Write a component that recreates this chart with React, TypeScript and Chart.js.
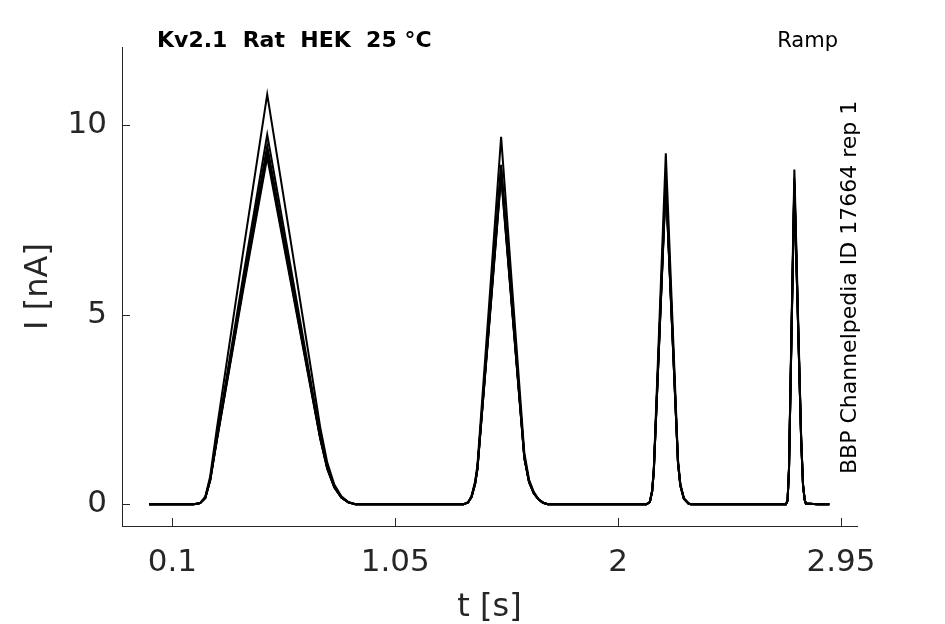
import { useEffect, useRef } from 'react';
import { Chart, registerables } from 'chart.js';

Chart.register(...registerables);

// sample times [s], shared by all repeats
const tSec = [
  0.0, 0.1, 0.19,
  0.218, 0.24, 0.261, 0.275, 0.289, 0.4, 0.504, 0.6, 0.7, 0.73, 0.76, 0.79, 0.82, 0.85, 0.88,
  1.0, 1.2, 1.34,
  1.36, 1.375, 1.39, 1.4, 1.45, 1.501, 1.55, 1.6, 1.62, 1.64, 1.66, 1.68, 1.7,
  1.85, 2.0, 2.12,
  2.135, 2.145, 2.152, 2.17, 2.203, 2.23, 2.255, 2.265, 2.28, 2.3, 2.31,
  2.45, 2.6, 2.715,
  2.722, 2.728, 2.74, 2.751, 2.765, 2.78, 2.788, 2.795, 2.8,
  2.85, 2.9,
];

// current [nA] for each repeat
const traceA = [
  0, 0, 0,
  0.03, 0.2, 0.74, 1.36, 1.98, 6.6, 10.81, 7.1, 3.2, 2.03, 1.1, 0.52, 0.21, 0.06, 0,
  0, 0, 0,
  0.05, 0.22, 0.6, 1.03, 5.28, 9.69, 5.55, 1.36, 0.65, 0.33, 0.14, 0.04, 0,
  0, 0, 0,
  0.06, 0.38, 0.97, 3.88, 9.26, 5.06, 1.18, 0.54, 0.16, 0.02, 0,
  0, 0, 0,
  0.1, 0.94, 5.09, 8.83, 5.4, 1.77, 0.52, 0.12, 0.02,
  0, 0,
];
const traceB = [
  0, 0, 0,
  0.03, 0.18, 0.67, 1.23, 1.78, 5.95, 9.75, 6.4, 2.88, 1.83, 1.0, 0.47, 0.19, 0.05, 0,
  0, 0, 0,
  0.05, 0.2, 0.55, 0.96, 4.88, 8.95, 5.13, 1.26, 0.6, 0.3, 0.13, 0.04, 0,
  0, 0, 0,
  0.06, 0.36, 0.92, 3.66, 8.75, 4.78, 1.12, 0.51, 0.15, 0.02, 0,
  0, 0, 0,
  0.1, 0.91, 4.96, 8.6, 5.26, 1.72, 0.51, 0.12, 0.02,
  0, 0,
];
const traceC = [
  0, 0, 0,
  0.03, 0.17, 0.65, 1.19, 1.73, 5.8, 9.45, 6.2, 2.8, 1.78, 0.97, 0.46, 0.18, 0.05, 0,
  0, 0, 0,
  0.05, 0.2, 0.55, 0.94, 4.82, 8.85, 5.07, 1.24, 0.6, 0.3, 0.13, 0.04, 0,
  0, 0, 0,
  0.06, 0.35, 0.9, 3.6, 8.6, 4.7, 1.1, 0.5, 0.15, 0.02, 0,
  0, 0, 0,
  0.1, 0.9, 4.9, 8.5, 5.2, 1.7, 0.5, 0.12, 0.02,
  0, 0,
];
const traceD = [
  0, 0, 0,
  0.03, 0.17, 0.64, 1.18, 1.71, 5.73, 9.35, 6.13, 2.77, 1.76, 0.96, 0.45, 0.18, 0.05, 0,
  0, 0, 0,
  0.05, 0.2, 0.54, 0.94, 4.8, 8.8, 5.04, 1.24, 0.59, 0.3, 0.13, 0.04, 0,
  0, 0, 0,
  0.06, 0.35, 0.89, 3.58, 8.55, 4.67, 1.09, 0.5, 0.15, 0.02, 0,
  0, 0, 0,
  0.1, 0.89, 4.87, 8.45, 5.17, 1.69, 0.5, 0.12, 0.02,
  0, 0,
];
const traceE = [
  0, 0, 0,
  0.03, 0.17, 0.64, 1.16, 1.69, 5.67, 9.25, 6.07, 2.74, 1.74, 0.94, 0.45, 0.18, 0.05, 0,
  0, 0, 0,
  0.05, 0.2, 0.54, 0.93, 4.74, 8.7, 4.99, 1.22, 0.59, 0.29, 0.13, 0.04, 0,
  0, 0, 0,
  0.06, 0.35, 0.89, 3.56, 8.5, 4.65, 1.09, 0.49, 0.15, 0.02, 0,
  0, 0, 0,
  0.1, 0.89, 4.84, 8.4, 5.14, 1.68, 0.49, 0.12, 0.02,
  0, 0,
];
const traceF = [
  0, 0, 0,
  0.03, 0.17, 0.63, 1.15, 1.67, 5.6, 9.15, 6.0, 2.71, 1.72, 0.93, 0.44, 0.18, 0.05, 0,
  0, 0, 0,
  0.05, 0.19, 0.53, 0.92, 4.71, 8.65, 4.96, 1.21, 0.58, 0.29, 0.13, 0.04, 0,
  0, 0, 0,
  0.06, 0.34, 0.88, 3.54, 8.45, 4.62, 1.08, 0.49, 0.15, 0.02, 0,
  0, 0, 0,
  0.1, 0.88, 4.81, 8.35, 5.11, 1.67, 0.49, 0.12, 0.02,
  0, 0,
];

const traces = [traceA, traceB, traceC, traceD, traceE, traceF];

const xTicks = [0.1, 1.05, 2, 2.95];
const yTicks = [0, 5, 10];

const AXIS_COLOR = '#262626';
const FONT = 'DejaVu Sans';

// inward tick marks + the free text around the axes
const overlayPlugin = {
  id: 'overlay',
  afterDraw(chart: any) {
    const { ctx, chartArea, scales } = chart;
    ctx.save();
    ctx.strokeStyle = AXIS_COLOR;
    ctx.lineWidth = 1;
    ctx.beginPath();
    xTicks.forEach((v) => {
      const px = Math.round(scales.x.getPixelForValue(v)) + 0.5;
      ctx.moveTo(px, chartArea.bottom);
      ctx.lineTo(px, chartArea.bottom - 8);
    });
    yTicks.forEach((v) => {
      const py = Math.round(scales.y.getPixelForValue(v)) + 0.5;
      ctx.moveTo(chartArea.left, py);
      ctx.lineTo(chartArea.left + 8, py);
    });
    ctx.stroke();

    ctx.fillStyle = '#000';
    ctx.textBaseline = 'alphabetic';
    ctx.font = `bold 22px "${FONT}"`;
    ctx.textAlign = 'left';
    ctx.fillText('Kv2.1  Rat  HEK  25 °C', 157, 47);

    ctx.font = `21px "${FONT}"`;
    ctx.textAlign = 'right';
    ctx.fillText('Ramp', 838, 47);

    ctx.translate(856, 474);
    ctx.rotate(-Math.PI / 2);
    ctx.textAlign = 'left';
    ctx.font = `22px "${FONT}"`;
    ctx.fillText('BBP Channelpedia ID 17664 rep 1', 0, 0);
    ctx.restore();
  },
};

export default function App() {
  const canvasRef = useRef<HTMLCanvasElement>(null);
  const chartRef = useRef<Chart | null>(null);

  useEffect(() => {
    document.body.style.margin = '0';
    if (!canvasRef.current) return;
    if (chartRef.current) chartRef.current.destroy();

    const datasets = traces.map((vals, i) => ({
      label: `rep ${i + 1}`,
      data: tSec.map((t, j) => ({ x: t, y: vals[j] })),
      borderColor: '#000',
      borderWidth: 2,
      pointRadius: 0,
      tension: 0,
      fill: false,
    }));

    chartRef.current = new Chart(canvasRef.current, {
      type: 'line',
      data: { datasets },
      options: {
        animation: false,
        responsive: false,
        devicePixelRatio: 1,
        layout: { padding: { top: 47, right: 88, left: 0, bottom: 0 } },
        plugins: {
          legend: { display: false },
          title: { display: false },
          tooltip: { enabled: false },
        },
        scales: {
          x: {
            type: 'linear',
            min: -0.115,
            max: 3.018,
            afterBuildTicks: (scale: any) => {
              scale.ticks = xTicks.map((v) => ({ value: v }));
            },
            afterFit: (scale: any) => {
              scale.height = 98;
            },
            ticks: {
              color: AXIS_COLOR,
              font: { family: FONT, size: 31 },
              padding: 18,
              maxRotation: 0,
              callback: (v: any) => String(v),
            },
            grid: { display: true, drawOnChartArea: false, drawTicks: false },
            border: { display: true, color: AXIS_COLOR, width: 1 },
            title: {
              display: true,
              text: 't [s]',
              color: AXIS_COLOR,
              font: { family: FONT, size: 32 },
              padding: { top: 0, bottom: -3 },
            },
          },
          y: {
            type: 'linear',
            min: -0.572,
            max: 12.06,
            afterBuildTicks: (scale: any) => {
              scale.ticks = yTicks.map((v) => ({ value: v }));
            },
            afterFit: (scale: any) => {
              scale.width = 122;
            },
            ticks: {
              color: AXIS_COLOR,
              font: { family: FONT, size: 31 },
              padding: 15,
              callback: (v: any) => String(v),
            },
            grid: { display: true, drawOnChartArea: false, drawTicks: false },
            border: { display: true, color: AXIS_COLOR, width: 1 },
            title: {
              display: true,
              text: 'I [nA]',
              color: AXIS_COLOR,
              font: { family: FONT, size: 32 },
              padding: { top: 19, bottom: 0 },
            },
          },
        },
      },
      plugins: [overlayPlugin],
    });

    return () => {
      if (chartRef.current) {
        chartRef.current.destroy();
        chartRef.current = null;
      }
    };
  }, []);

  return (
    <div style={{ width: 945, height: 624, position: 'relative', background: '#fff' }}>
      <canvas ref={canvasRef} width={945} height={624} style={{ display: 'block' }} />
    </div>
  );
}
